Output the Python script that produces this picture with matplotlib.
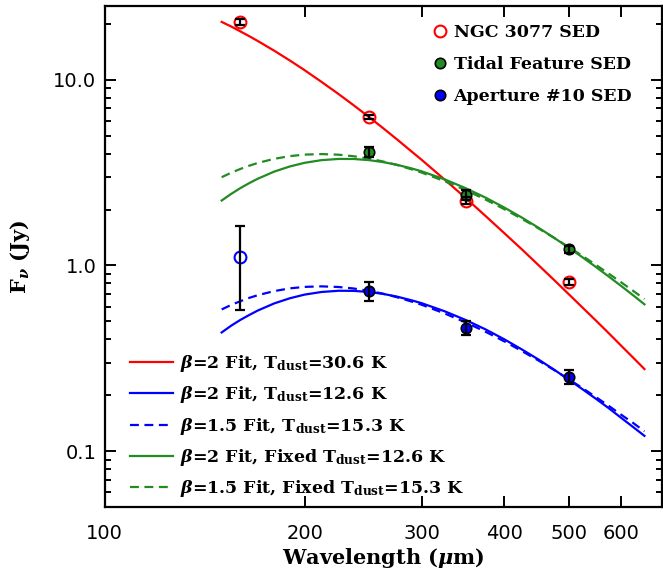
import matplotlib
matplotlib.use('Agg')
import matplotlib.pyplot as plt
from matplotlib.lines import Line2D
from matplotlib.ticker import FixedLocator, FixedFormatter, NullFormatter

plt.rcParams['mathtext.fontset'] = 'custom'
plt.rcParams['mathtext.rm'] = 'DejaVu Serif:bold'
plt.rcParams['mathtext.it'] = 'DejaVu Serif:italic:bold'
plt.rcParams['mathtext.bf'] = 'DejaVu Serif:bold'

# measured SEDs (wavelength in micron, flux in Jy)
wl_ngc = [160, 250, 350, 500]
f_ngc = [20.4, 6.3, 2.23, 0.815]
e_ngc = [0.8, 0.15, 0.1, 0.03]

wl_tidal = [250, 350, 500]
f_tidal = [4.09, 2.41, 1.22]
e_tidal = [0.25, 0.15, 0.05]

wl_ap160 = [160]
f_ap160 = [1.105]
e_ap160 = [0.53]

wl_ap = [250, 350, 500]
f_ap = [0.727, 0.46, 0.252]
e_ap = [0.087, 0.04, 0.022]

# fitted curves
wl_fit = [150, 155, 160, 165, 170, 180, 190, 200, 212, 225, 237, 250, 262, 275, 290,
          300, 325, 350, 375, 400, 425, 450, 475, 500, 525, 550, 575, 600, 625, 650]
fit_red = [20.47, 19.34, 18.21, 17.16, 16.16, 14.32, 12.69, 11.25, 9.74, 8.37, 7.29, 6.30,
           5.52, 4.80, 4.10, 3.71, 2.90, 2.30, 1.84, 1.49, 1.22, 1.005, 0.836, 0.700,
           0.591, 0.503, 0.430, 0.369, 0.319, 0.277]
fit_blue = [0.436, 0.474, 0.509, 0.541, 0.572, 0.625, 0.666, 0.697, 0.720, 0.731, 0.730,
            0.720, 0.704, 0.681, 0.649, 0.627, 0.567, 0.508, 0.452, 0.400, 0.353, 0.312,
            0.275, 0.243, 0.215, 0.191, 0.170, 0.151, 0.135, 0.121]
fit_blue15 = [0.580, 0.613, 0.642, 0.669, 0.692, 0.728, 0.753, 0.767, 0.772, 0.766, 0.752,
              0.730, 0.706, 0.676, 0.639, 0.615, 0.552, 0.493, 0.439, 0.390, 0.346, 0.308,
              0.274, 0.244, 0.218, 0.195, 0.175, 0.157, 0.142, 0.128]
fit_green = [2.237, 2.427, 2.607, 2.774, 2.930, 3.202, 3.412, 3.570, 3.689, 3.745, 3.743,
             3.690, 3.606, 3.489, 3.328, 3.213, 2.908, 2.602, 2.314, 2.048, 1.810, 1.597,
             1.410, 1.246, 1.103, 0.978, 0.869, 0.774, 0.691, 0.618]
fit_green15 = [2.987, 3.155, 3.307, 3.443, 3.563, 3.751, 3.878, 3.952, 3.978, 3.947, 3.873,
               3.760, 3.635, 3.481, 3.292, 3.165, 2.844, 2.540, 2.259, 2.007, 1.782, 1.584,
               1.410, 1.256, 1.122, 1.004, 0.901, 0.810, 0.730, 0.660]

fit_labels = [r'$\beta$=2 Fit, T$_{\rm dust}$=30.6 K',
              r'$\beta$=2 Fit, T$_{\rm dust}$=12.6 K',
              r'$\beta$=1.5 Fit, T$_{\rm dust}$=15.3 K',
              r'$\beta$=2 Fit, Fixed T$_{\rm dust}$=12.6 K',
              r'$\beta$=1.5 Fit, Fixed T$_{\rm dust}$=15.3 K']
sed_labels = ['NGC 3077 SED', 'Tidal Feature SED', 'Aperture #10 SED']

red = '#ff0000'
blue = '#0000ff'
green = '#228b22'
dash = (0, (4, 2.5))

fig = plt.figure(figsize=(6.63, 5.77), dpi=100)
ax = fig.add_axes([0.158, 0.121, 0.84, 0.869])
ax.set_xscale('log')
ax.set_yscale('log')

lw = 1.6
l1, = ax.plot(wl_fit, fit_red, color=red, lw=lw)
l2, = ax.plot(wl_fit, fit_blue, color=blue, lw=lw)
l3, = ax.plot(wl_fit, fit_blue15, color=blue, lw=lw, linestyle=dash)
l4, = ax.plot(wl_fit, fit_green, color=green, lw=lw)
l5, = ax.plot(wl_fit, fit_green15, color=green, lw=lw, linestyle=dash)

# data points
ax.plot(wl_ngc, f_ngc, 'o', mfc='none', mec=red, mew=1.5, ms=8.5, zorder=4)
ax.plot(wl_ap160, f_ap160, 'o', mfc='none', mec=blue, mew=1.5, ms=8.5, zorder=4)
ax.plot(wl_tidal, f_tidal, 'o', mfc=green, mec='black', mew=1.2, ms=7.5, zorder=4)
ax.plot(wl_ap, f_ap, 'o', mfc=blue, mec='black', mew=1.2, ms=7.5, zorder=4)
for x, y, e in [(wl_ngc, f_ngc, e_ngc), (wl_tidal, f_tidal, e_tidal),
                (wl_ap160, f_ap160, e_ap160), (wl_ap, f_ap, e_ap)]:
    ax.errorbar(x, y, yerr=e, fmt='none', ecolor='black', elinewidth=1.6,
                capsize=3.5, capthick=1.6, zorder=5)

ax.set_xlim(100, 690)
ax.set_ylim(0.05, 25)

ax.xaxis.set_major_locator(FixedLocator([100, 200, 300, 400, 500, 600]))
ax.xaxis.set_major_formatter(FixedFormatter(['100', '200', '300', '400', '500', '600']))
ax.xaxis.set_minor_locator(FixedLocator([]))
ax.yaxis.set_major_locator(FixedLocator([0.1, 1.0, 10.0]))
ax.yaxis.set_major_formatter(FixedFormatter(['0.1', '1.0', '10.0']))
yminor = [m * d for d in (0.01, 0.1, 1.0, 10.0) for m in range(2, 10)]
ax.yaxis.set_minor_locator(FixedLocator(yminor))
ax.yaxis.set_minor_formatter(NullFormatter())

ax.tick_params(which='both', direction='in', top=True, right=True, width=1.4,
               labelsize=14, colors='black')
ax.tick_params(axis='x', which='major', length=8, pad=12)
ax.tick_params(axis='y', which='major', length=8, pad=6)
ax.tick_params(which='minor', length=4)
for lab in ax.get_xticklabels() + ax.get_yticklabels():
    lab.set_family('DejaVu Sans')
for sp in ax.spines.values():
    sp.set_linewidth(1.6)

ax.set_xlabel(r'Wavelength ($\mu$m)', fontsize=15, family='DejaVu Serif',
              fontweight='bold', labelpad=2)
ax.set_ylabel(r'F$_\nu$ (Jy)', fontsize=15, family='DejaVu Serif',
              fontweight='bold', labelpad=15)

fprop = {'family': 'DejaVu Serif', 'weight': 'bold', 'size': 12.5}

h_sed = [Line2D([], [], ls='none', marker='o', mfc='none', mec=red, mew=1.5, ms=8.5),
         Line2D([], [], ls='none', marker='o', mfc=green, mec='black', mew=1.2, ms=7.5),
         Line2D([], [], ls='none', marker='o', mfc=blue, mec='black', mew=1.2, ms=7.5)]
leg1 = fig.legend(h_sed, sed_labels, loc='upper left', bbox_to_anchor=(0.650, 0.958),
                  frameon=False, prop=fprop, handlelength=1.0, handletextpad=0.3,
                  labelspacing=0.85, borderpad=0, borderaxespad=0)

leg2 = fig.legend([l1, l2, l3, l4, l5], fit_labels, loc='upper left',
                  bbox_to_anchor=(0.196, 0.388), frameon=False, prop=fprop,
                  handlelength=2.5, handletextpad=0.4, labelspacing=0.59,
                  borderpad=0, borderaxespad=0)

fig.savefig('out.png', dpi=100)
